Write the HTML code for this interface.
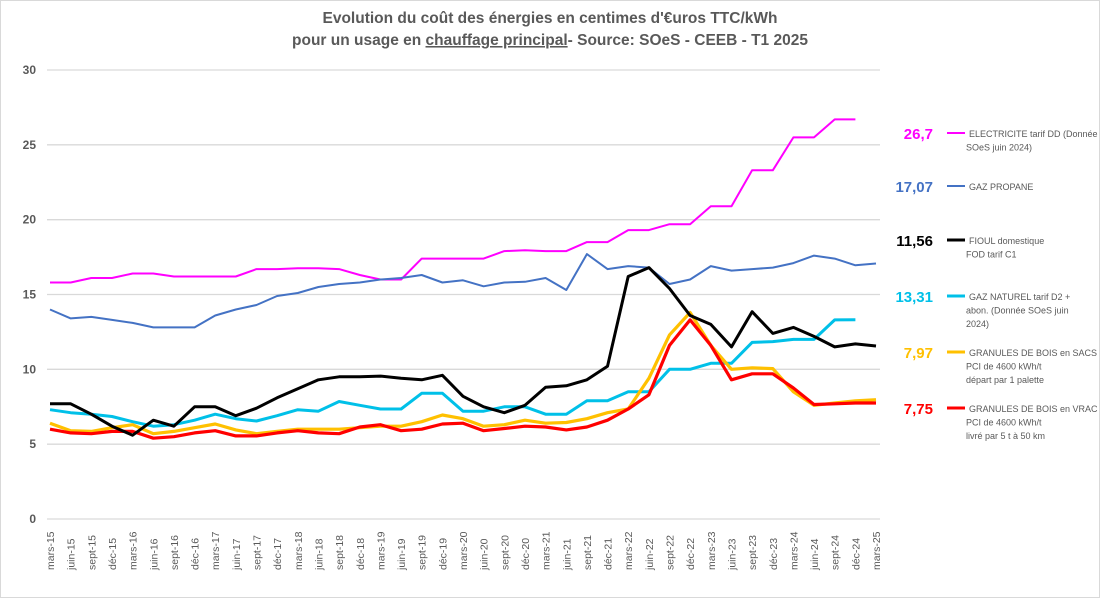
<!DOCTYPE html>
<html><head><meta charset="utf-8"><style>
body{margin:0;background:#fff;}
svg{display:block;font-family:"Liberation Sans",sans-serif;}
</style></head><body>
<svg id="chart" width="1100" height="598">
<rect x="0.5" y="0.5" width="1099" height="597" fill="#fff" stroke="#d9d9d9"/>
<text x="550" y="23" text-anchor="middle" font-size="15.5" font-weight="bold" fill="#595959">Evolution du coût des énergies en centimes d'€uros TTC/kWh</text>
<text x="550" y="45" text-anchor="middle" font-size="15.5" font-weight="bold" fill="#595959">pour un usage en <tspan text-decoration="underline">chauffage principal</tspan>- Source: SOeS - CEEB - T1 2025</text>
<g id="grid"></g><g id="xlabels"></g><g id="series"></g><g id="legend"></g>
</svg>
<script>
const yTicks=[0,5,10,15,20,25,30];
const years=[15,16,17,18,19,20,21,22,23,24,25];
const monthNames=["mars","juin","sept","déc"];
const elec=[15.8,15.8,16.1,16.1,16.4,16.4,16.2,16.2,16.2,16.2,16.7,16.7,16.75,16.75,16.7,16.3,16.0,16.0,17.4,17.4,17.4,17.4,17.9,17.95,17.9,17.9,18.5,18.5,19.3,19.3,19.7,19.7,20.9,20.9,23.3,23.3,25.5,25.5,26.7,26.7,null];
const propane=[14.0,13.4,13.5,13.3,13.1,12.8,12.8,12.8,13.6,14.0,14.3,14.9,15.1,15.5,15.7,15.8,16.0,16.1,16.3,15.8,15.95,15.55,15.8,15.85,16.1,15.3,17.7,16.7,16.9,16.8,15.7,16.0,16.9,16.6,16.7,16.8,17.1,17.6,17.4,16.95,17.07];
const fioul=[7.7,7.7,7.0,6.2,5.6,6.6,6.2,7.5,7.5,6.9,7.4,8.1,8.7,9.3,9.5,9.5,9.55,9.4,9.3,9.6,8.2,7.5,7.1,7.6,8.8,8.9,9.3,10.2,16.2,16.8,15.4,13.6,13.0,11.5,13.85,12.4,12.8,12.2,11.5,11.7,11.56];
const gaz=[7.3,7.1,7.0,6.85,6.5,6.2,6.3,6.6,7.0,6.7,6.55,6.9,7.3,7.2,7.85,7.6,7.35,7.35,8.4,8.4,7.2,7.2,7.5,7.5,7.0,7.0,7.9,7.9,8.5,8.5,10.0,10.0,10.4,10.4,11.8,11.85,12.0,12.0,13.3,13.31,null];
const sacs=[6.4,5.9,5.85,6.1,6.3,5.7,5.85,6.1,6.35,5.95,5.7,5.85,6.0,6.0,6.0,6.1,6.2,6.2,6.5,6.95,6.7,6.2,6.3,6.6,6.4,6.45,6.7,7.1,7.35,9.4,12.3,13.8,11.6,10.0,10.1,10.05,8.5,7.6,7.75,7.9,7.97];
const vrac=[6.0,5.75,5.7,5.85,5.85,5.4,5.5,5.75,5.9,5.55,5.55,5.75,5.9,5.75,5.7,6.15,6.3,5.9,6.0,6.35,6.4,5.9,6.05,6.2,6.15,5.95,6.15,6.6,7.35,8.3,11.6,13.3,11.6,9.3,9.7,9.7,8.75,7.65,7.7,7.75,7.75];
const legendValues=["26,7","17,07","11,56","13,31","7,97","7,75"];

const NS="http://www.w3.org/2000/svg";
const X0=50,X1=876,Y0=519,Y1=70,YMAX=30;
function xq(i){return X0+i*(X1-X0)/40;}
function yv(v){return Y0-v*(Y0-Y1)/YMAX;}
function mk(tag,attrs,parent){const e=document.createElementNS(NS,tag);for(const k in attrs)e.setAttribute(k,attrs[k]);parent.appendChild(e);return e;}
const grid=document.getElementById('grid');
yTicks.forEach(t=>{
  const l=mk('line',{x1:47,x2:880,y1:yv(t),y2:yv(t),stroke:'#d9d9d9','stroke-width':1.3},grid);
  
  
  const tx=mk('text',{x:36,y:yv(t)+4,'text-anchor':'end','font-size':12,'font-weight':'bold',fill:'#595959'},grid);
  tx.textContent=t;
  
  
});
const xl=document.getElementById('xlabels');
let qi=0;
years.forEach((yr,k)=>{monthNames.forEach(m=>{
  if(k===years.length-1 && m!=="mars")return;
  const x=xq(qi)+4;
  const tx=mk('text',{x:0,y:0,transform:`translate(${x},570) rotate(-90)`,'font-size':10.5,fill:'#595959'},xl);
  tx.textContent=m+'-'+yr;
  
  
  qi++;
});});
const sg=document.getElementById('series');
const seriesList=[[elec,'#ff00ff',2,'line-electricite'],[propane,'#4472c4',2,'line-gaz-propane'],[gaz,'#00c0e8',3,'line-gaz-naturel'],[sacs,'#ffc000',3.2,'line-granules-sacs'],[vrac,'#ff0000',3.2,'line-granules-vrac'],[fioul,'#000000',3,'line-fioul']];
seriesList.forEach(s=>{
  let d='';let pen=false;
  s[0].forEach((v,i)=>{if(v===null){pen=false;return;}d+=(pen?'L':'M')+xq(i).toFixed(1)+' '+yv(v).toFixed(1);pen=true;});
  const p=mk('path',{d:d,fill:'none',stroke:s[1],'stroke-width':s[2],'stroke-linejoin':'round'},sg);
  
  
});
const lg=document.getElementById('legend');
const legendItems=[
 ['#ff00ff',133,['ELECTRICITE tarif DD (Donnée','SOeS juin 2024)'],'legend-electricite',2],
 ['#4472c4',186,['GAZ PROPANE'],'legend-gaz-propane',2],
 ['#000000',240,['FIOUL domestique','FOD tarif C1'],'legend-fioul',3],
 ['#00c0e8',296,['GAZ NATUREL tarif D2 +','abon. (Donnée SOeS juin','2024)'],'legend-gaz-naturel',3],
 ['#ffc000',352,['GRANULES DE BOIS en SACS','PCI de 4600 kWh/t','départ par 1 palette'],'legend-granules-sacs',3],
 ['#ff0000',408,['GRANULES DE BOIS en VRAC','PCI de 4600 kWh/t',' livré par 5 t à 50 km'],'legend-granules-vrac',3]];
legendItems.forEach((it,i)=>{
  const g=mk('g',{},lg);
  
  
  const v=mk('text',{x:933,y:it[1]+6,'text-anchor':'end','font-size':15,'font-weight':'bold',fill:it[0]},g);
  v.textContent=legendValues[i];
  mk('line',{x1:947,x2:965,y1:it[1],y2:it[1],stroke:it[0],'stroke-width':it[4]},g);
  it[2].forEach((t,j)=>{
    const tx=mk('text',{x:j===0?969:966,y:it[1]+4+j*13.5,'font-size':9,fill:'#595959'},g);
    tx.textContent=t;
  });
});
</script>
</body></html>
